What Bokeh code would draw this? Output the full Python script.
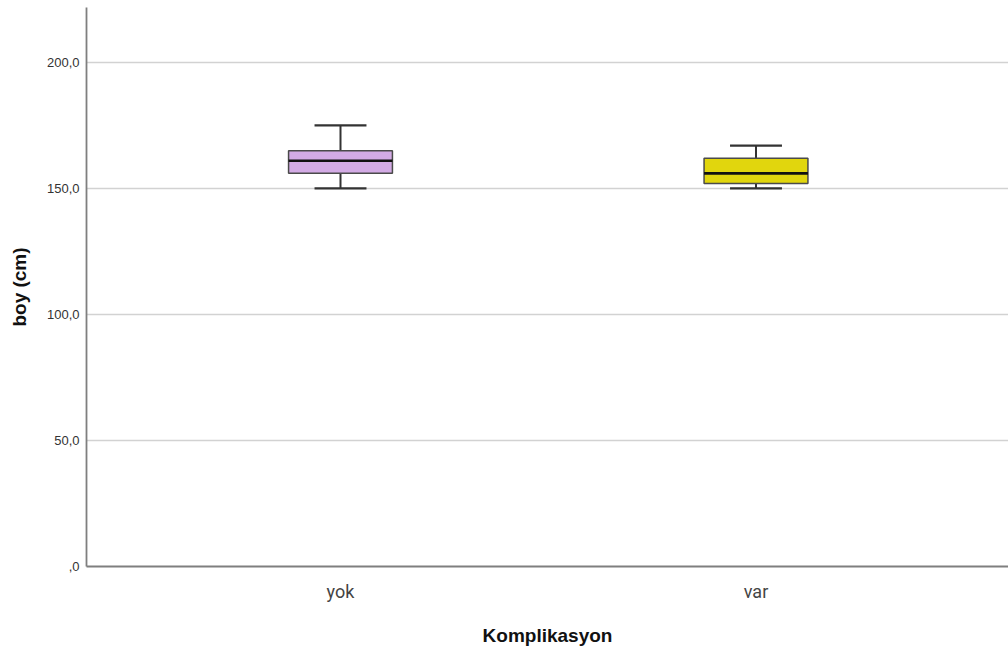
from bokeh.plotting import figure
from bokeh.models import Range1d, FixedTicker, ColumnDataSource
from bokeh.embed import file_html
from bokeh.resources import INLINE

# Boy (cm) dağılımı, komplikasyon durumuna göre
groups = ["yok", "var"]
whisker_low = [150, 150]
q1 = [156, 152]
median = [161, 156]
q3 = [165, 162]
whisker_high = [175, 167]
box_colors = ["#D3ABE5", "#E1D60D"]

y_ticks = [0, 50, 100, 150, 200]
y_tick_labels = [",0", "50,0", "100,0", "150,0", "200,0"]

xs = [i + 1 for i in range(len(groups))]
box_w = 0.25
cap_half = 0.0625

src = ColumnDataSource(dict(
    x=xs, lo=whisker_low, q1=q1, med=median, q3=q3, hi=whisker_high,
    color=box_colors,
    xl=[x - box_w / 2 for x in xs], xr=[x + box_w / 2 for x in xs],
    cl=[x - cap_half for x in xs], cr=[x + cap_half for x in xs],
))

p = figure(width=1008, height=653, output_backend="svg", toolbar_location=None,
           x_range=Range1d(0.3887, 2.6077), y_range=Range1d(0, 221.8),
           min_border_left=86, min_border_right=0, min_border_top=7,
           min_border_bottom=87, outline_line_color=None,
           background_fill_color="white", border_fill_color="white")

# whiskers and caps
p.segment(x0="x", y0="q3", x1="x", y1="hi", source=src, line_color="#333333", line_width=2)
p.segment(x0="x", y0="lo", x1="x", y1="q1", source=src, line_color="#333333", line_width=2)
p.segment(x0="cl", y0="hi", x1="cr", y1="hi", source=src, line_color="#333333", line_width=2.2)
p.segment(x0="cl", y0="lo", x1="cr", y1="lo", source=src, line_color="#333333", line_width=2.2)

# boxes and medians
p.vbar(x="x", width=box_w, bottom="q1", top="q3", source=src,
       fill_color="color", line_color="#4a4a4a", line_width=1.5)
p.segment(x0="xl", y0="med", x1="xr", y1="med", source=src, line_color="#111111", line_width=2.6)

# axes
p.xgrid.visible = False
p.ygrid.ticker = FixedTicker(ticks=y_ticks)
p.ygrid.grid_line_color = "#d2d2d2"
p.ygrid.grid_line_width = 1.6

p.yaxis.ticker = FixedTicker(ticks=y_ticks)
p.yaxis.major_label_overrides = {t: s for t, s in zip(y_ticks, y_tick_labels)}
p.xaxis.ticker = FixedTicker(ticks=xs)
p.xaxis.major_label_overrides = {x: g for x, g in zip(xs, groups)}

for ax in (p.xaxis, p.yaxis):
    ax.axis_line_color = "#7f7f7f"
    ax.axis_line_width = 1.8
    ax.major_tick_line_color = None
    ax.minor_tick_line_color = None
    ax.major_tick_out = 0
    ax.major_tick_in = 0

p.yaxis.major_label_text_font = "Liberation Sans"
p.yaxis.major_label_text_font_size = "13px"
p.yaxis.major_label_text_color = "#333333"
p.yaxis.major_label_standoff = 7
p.yaxis.axis_label = "boy (cm)"
p.yaxis.axis_label_text_font = "Liberation Sans"
p.yaxis.axis_label_text_font_style = "bold"
p.yaxis.axis_label_text_font_size = "19px"
p.yaxis.axis_label_text_color = "#111111"
p.yaxis.axis_label_standoff = 14

p.xaxis.major_label_text_font = "Roboto"
p.xaxis.major_label_text_font_size = "18px"
p.xaxis.major_label_text_color = "#444444"
p.xaxis.major_label_standoff = 14
p.xaxis.axis_label = "Komplikasyon"
p.xaxis.axis_label_text_font = "Liberation Sans"
p.xaxis.axis_label_text_font_style = "bold"
p.xaxis.axis_label_text_font_size = "19px"
p.xaxis.axis_label_text_color = "#111111"
p.xaxis.axis_label_standoff = 20

open("out.html", "w").write(file_html(p, INLINE))
